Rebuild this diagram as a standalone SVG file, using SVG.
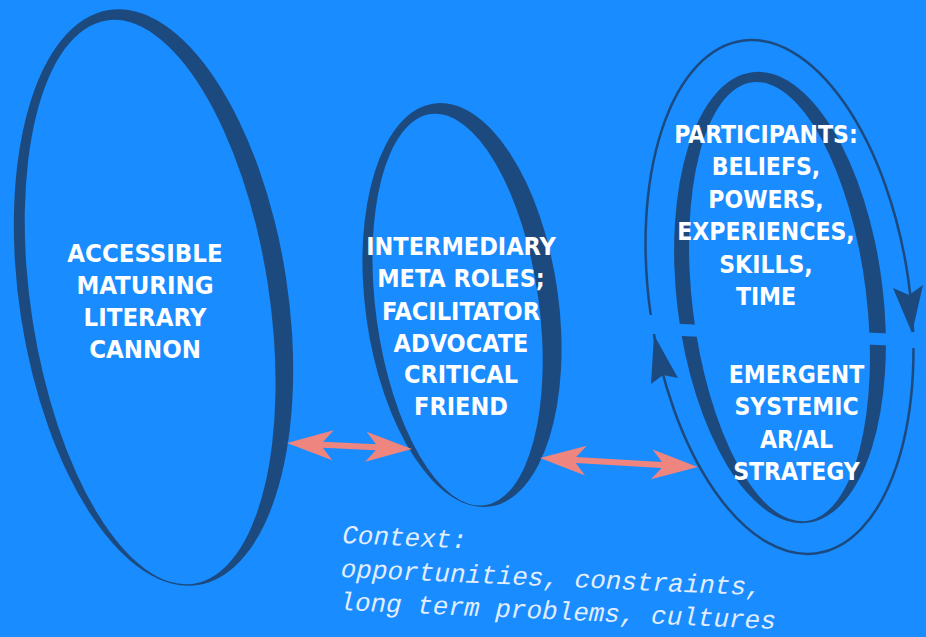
<svg xmlns="http://www.w3.org/2000/svg" width="926" height="637" viewBox="0 0 926 637">
<style>
.bg{fill:#198cff}
.ring{fill:#1c4a7f}
.hole{fill:#198cff}
.lbl{font-family:"DejaVu Sans Condensed","DejaVu Sans","Liberation Sans",sans-serif;font-stretch:condensed;font-weight:bold;fill:#ffffff;text-anchor:middle}
.ctx{font-family:"Liberation Mono","DejaVu Sans Mono",monospace;font-style:italic;font-size:26px;fill:#e2eefd}
.pink{fill:#ef857f}
.thin{fill:none;stroke:#1c4a7f;stroke-width:2.5}
</style>
<rect class="bg" x="0" y="0" width="926" height="637"/>

<g id="node-canon">
  <g transform="translate(153.5 297.5) rotate(-8.8)">
    <ellipse class="ring" cx="0" cy="0" rx="134" ry="291"/>
    <ellipse class="hole" cx="-4" cy="4" rx="119" ry="285"/>
  </g>
  <text class="lbl" font-size="25.5" x="145" y="262">ACCESSIBLE</text>
  <text class="lbl" font-size="25.5" x="145" y="294">MATURING</text>
  <text class="lbl" font-size="25.5" x="145" y="326">LITERARY</text>
  <text class="lbl" font-size="25.5" x="145" y="358">CANNON</text>
</g>

<g id="node-intermediary">
  <g transform="translate(462 305) rotate(-7.85)">
    <ellipse class="ring" cx="0" cy="0" rx="96.5" ry="203.5"/>
    <ellipse class="hole" cx="-5" cy="4" rx="81.5" ry="197.5"/>
  </g>
  <text class="lbl" font-size="25" x="461" y="255">INTERMEDIARY</text>
  <text class="lbl" font-size="25" x="461" y="287">META ROLES;</text>
  <text class="lbl" font-size="25" x="461" y="320">FACILITATOR</text>
  <text class="lbl" font-size="25" x="461" y="352">ADVOCATE</text>
  <text class="lbl" font-size="25" x="461" y="383">CRITICAL</text>
  <text class="lbl" font-size="25" x="461" y="415">FRIEND</text>
</g>

<g id="node-participants">
  <g transform="translate(780 297.5) rotate(-7)">
    <ellipse class="ring" cx="0" cy="0" rx="103" ry="227"/>
    <ellipse class="hole" cx="-1" cy="4" rx="87" ry="221"/>
  </g>
  <g transform="translate(779.5 297) rotate(-8.3)">
    <ellipse class="thin" cx="0" cy="0" rx="130" ry="259"/>
  </g>
  <polygon class="hole" points="660,323 900,334 900,346 660,335"/>
  <polygon class="hole" points="636,315 664,315 664,334 636,334"/>
  <polygon class="hole" points="900,332 925,332 925,348 900,348"/>
  <polygon class="ring" points="912,333 893,288 909,295 923,285"/>
  <polygon class="ring" points="654,335 678,378 663,375 651,384"/>
  <text class="lbl" font-size="24.5" x="766" y="143">PARTICIPANTS:</text>
  <text class="lbl" font-size="24.5" x="766" y="175">BELIEFS,</text>
  <text class="lbl" font-size="24.5" x="766" y="208">POWERS,</text>
  <text class="lbl" font-size="24.5" x="766" y="240">EXPERIENCES,</text>
  <text class="lbl" font-size="24.5" x="766" y="273">SKILLS,</text>
  <text class="lbl" font-size="24.5" x="766" y="305">TIME</text>
  <text class="lbl" font-size="24.5" x="796.5" y="383">EMERGENT</text>
  <text class="lbl" font-size="24.5" x="796.5" y="415">SYSTEMIC</text>
  <text class="lbl" font-size="24.5" x="796.5" y="448">AR/AL</text>
  <text class="lbl" font-size="24.5" x="796.5" y="480">STRATEGY</text>
</g>

<g id="connectors">
  <path class="pink" transform="translate(287 443) rotate(2.75)" d="M0,0 L46,-15 L36,-3 L89,-3 L79,-15 L125,0 L79,15 L89,3 L36,3 L46,15 Z"/>
  <path class="pink" transform="translate(540 458) rotate(3.26)" d="M0,0 L46,-15 L36,-3 L122,-3 L112,-15 L158,0 L112,15 L122,3 L36,3 L46,15 Z"/>
</g>

<g id="context" transform="rotate(2.5 342 543)">
  <text class="ctx" x="342" y="543">Context:</text>
  <text class="ctx" x="342" y="577">opportunities, constraints,</text>
  <text class="ctx" x="342" y="610">long term problems, cultures</text>
</g>
</svg>
